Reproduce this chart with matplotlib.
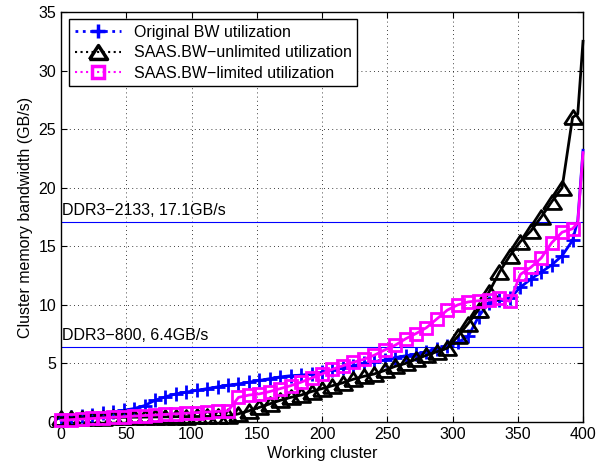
import matplotlib
matplotlib.use('Agg')
import matplotlib.pyplot as plt
from matplotlib.lines import Line2D

plt.rcParams['font.family'] = ['Liberation Sans', 'DejaVu Sans']

# --- data ---
# markers sit every 8 clusters, the last two points only shape the end of the lines
x = list(range(0, 393, 8)) + [396, 400]

original_bw = [0.3, 0.4, 0.5, 0.6, 0.75, 0.85, 1.0, 1.15, 1.4, 1.85,
               2.15, 2.4, 2.55, 2.7, 2.85, 3.0, 3.15, 3.25, 3.4, 3.55,
               3.7, 3.85, 3.95, 4.0, 4.1, 4.25, 4.45, 4.6, 4.8, 5.0,
               5.15, 5.3, 5.5, 5.65, 5.8, 6.0, 6.25, 6.45, 6.8, 7.3,
               9.0, 10.2, 10.4, 10.55, 11.5, 12.2, 12.8, 13.4, 14.2, 15.5,
               17.2, 23.2]

unlimited_bw = [0.35, 0.35, 0.36, 0.37, 0.38, 0.39, 0.4, 0.41, 0.42, 0.43,
                0.44, 0.45, 0.46, 0.47, 0.48, 0.49, 0.5, 0.7, 0.95, 1.25,
                1.55, 1.85, 2.1, 2.3, 2.6, 2.85, 3.1, 3.35, 3.65, 3.9,
                4.1, 4.4, 4.75, 5.0, 5.35, 5.7, 6.0, 6.3, 7.3, 8.4,
                9.6, 11.1, 12.8, 14.2, 15.4, 16.3, 17.5, 18.8, 20.0, 26.0,
                26.3, 32.5]

limited_bw = [0.15, 0.2, 0.25, 0.3, 0.35, 0.4, 0.45, 0.5, 0.55, 0.6,
              0.65, 0.7, 0.75, 0.8, 0.85, 0.9, 0.95, 2.1, 2.3, 2.4,
              2.6, 2.85, 3.1, 3.4, 3.75, 4.1, 4.5, 4.8, 5.1, 5.35,
              5.7, 6.15, 6.55, 7.1, 7.55, 8.05, 8.8, 9.55, 10.0, 10.25,
              10.35, 10.4, 10.55, 10.3, 12.6, 13.2, 14.0, 15.3, 16.2, 16.5,
              17.0, 23.0]

ddr_levels = [17.1, 6.4]
ddr_labels = ['DDR3\u22122133, 17.1GB/s', 'DDR3\u2212800, 6.4GB/s']

# MATLAB-like wide triangle
tri = [(-1.3, -1), (1.3, -1), (0, 1), (-1.3, -1)]
marks = slice(0, 50)
fs = 11.5

fig = plt.figure(figsize=(6.07, 4.66), dpi=100)
ax = fig.add_axes([61 / 607, 44 / 466, 522 / 607, 410 / 466])

ax.plot(x, original_bw, color='#0000ff', linewidth=2, marker='+', markersize=9.5,
        markeredgewidth=2, markevery=marks, clip_on=False, zorder=3)
ax.plot(x, unlimited_bw, color='black', linewidth=2, marker=tri, markersize=13,
        markeredgewidth=2, markerfacecolor='none', markevery=marks, clip_on=False, zorder=4)
ax.plot(x, limited_bw, color='#ff00ff', linewidth=2, marker='s', markersize=9,
        markeredgewidth=2, markerfacecolor='none', markevery=marks, clip_on=False, zorder=5)

for lvl, lab in zip(ddr_levels, ddr_labels):
    ax.axhline(lvl, color='#0000ff', linewidth=0.8, zorder=2)
    ax.text(1, lvl + 0.35, lab, fontsize=fs, ha='left', va='bottom')

ax.set_xlim(0, 400)
ax.set_ylim(0, 35)
ax.set_xticks(range(0, 401, 50))
ax.set_yticks(range(0, 36, 5))
ax.tick_params(direction='in', top=True, right=True, labelsize=fs, length=4, width=0.8)
ax.grid(True, color='black', linestyle=(0, (1, 4)), linewidth=0.6)
for sp in ax.spines.values():
    sp.set_linewidth(1)
ax.set_xlabel('Working cluster', fontsize=fs, labelpad=3)
ax.set_ylabel('Cluster memory bandwidth (GB/s)', fontsize=fs, labelpad=4)

handles = [
    Line2D([], [], color='#0000ff', linestyle=':', linewidth=2, marker='+', markersize=9.5, markeredgewidth=2.5),
    Line2D([], [], color='black', linestyle=':', linewidth=1.5, marker=tri, markersize=13,
           markeredgewidth=2.5, markerfacecolor='none'),
    Line2D([], [], color='#ff00ff', linestyle=':', linewidth=1.5, marker='s', markersize=9,
           markeredgewidth=2.5, markerfacecolor='none'),
]
labels = ['Original BW utilization', 'SAAS.BW\u2212unlimited utilization', 'SAAS.BW\u2212limited utilization']
leg = ax.legend(handles, labels, loc='upper left', bbox_to_anchor=(0.0153, 0.983), borderaxespad=0,
                fontsize=fs, handlelength=2.9, handletextpad=0.8, labelspacing=0.35, borderpad=0.35,
                fancybox=False, framealpha=1, edgecolor='black')
leg.get_frame().set_linewidth(1)
leg.set_zorder(10)

fig.savefig('out.png', dpi=100)
